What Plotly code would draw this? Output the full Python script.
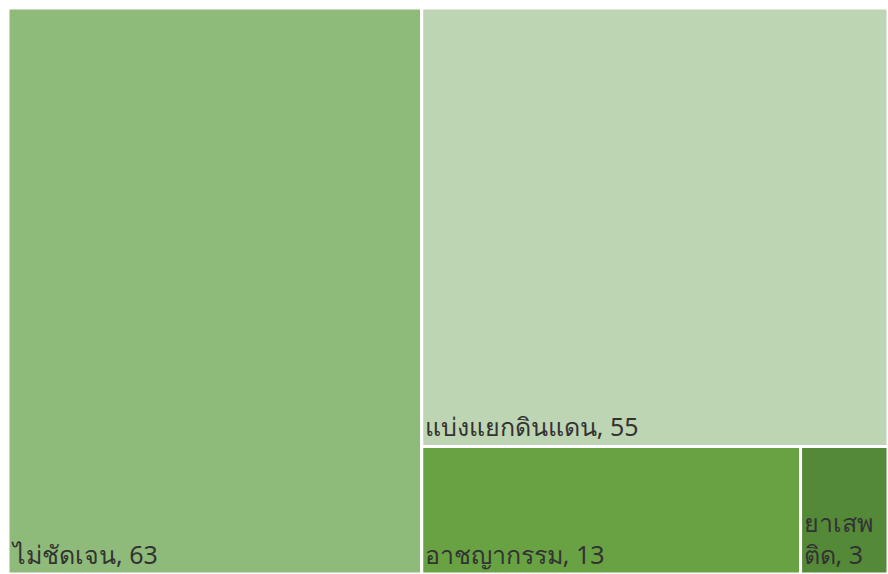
import plotly.graph_objects as go

labels = ["ไม่ชัดเจน", "แบ่งแยกดินแดน", "อาชญากรรม", "ยาเสพติด"]
values = [63, 55, 13, 3]
display = ["ไม่ชัดเจน, 63", "แบ่งแยกดินแดน, 55", "อาชญากรรม, 13", "ยาเสพ<br>ติด, 3"]
colors = ["#8fbb7a", "#bdd5b3", "#68a243", "#548a37"]

fig = go.Figure(go.Treemap(
    labels=labels,
    parents=[""] * len(labels),
    values=values,
    text=display,
    texttemplate="%{text}",
    textposition="bottom left",
    textfont=dict(family="Noto Sans, sans-serif", size=25, color="#333333"),
    marker=dict(colors=colors, line=dict(color="white", width=3),
                pad=dict(t=0, l=0, r=0, b=0)),
    sort=True,
    hoverinfo="label+value",
    pathbar=dict(visible=False),
    tiling=dict(pad=0),
))
fig.update_layout(
    width=888, height=574,
    margin=dict(l=8, t=8, r=0, b=0),
    paper_bgcolor="white",
)
fig.write_html(
    "out.html",
    config={"displayModeBar": False},
    post_script="document.body.style.margin='0';document.body.style.overflow='hidden';",
)
